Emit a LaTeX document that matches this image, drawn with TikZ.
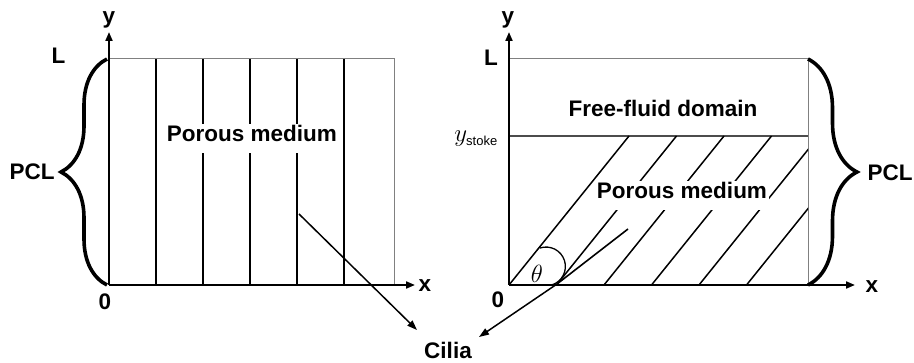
\documentclass[tikz,border=0pt]{standalone}
\usepackage{fontspec}
\setmainfont{Liberation Sans}
\usetikzlibrary{arrows.meta, decorations.pathreplacing}

\begin{document}
\begin{tikzpicture}[x=1pt, y=1pt,
    lbl/.style={font=\fontsize{22.5}{27}\selectfont\bfseries, inner sep=0pt},
    medium/.style={lbl, fill=white, inner xsep=2pt, inner ysep=9.8pt,
                   text height=0.75em, text depth=0.2em},
    axis/.style={line width=2pt, -{Triangle[length=9pt, width=7pt]}},
    pointer/.style={line width=1.5pt, -{Triangle[length=10pt, width=7pt]}},
    cilium/.style={line width=1.6pt},
    hatch/.style={line width=1.5pt},
    frame/.style={gray, line width=1pt},
    pcl/.style={line width=3.6pt, decorate, decoration={brace, amplitude=#1}}
]
\useasboundingbox (0,0) rectangle (914,362);

% left panel: upright cilia
\coordinate (O1) at (109,77);
\coordinate (Y1) at (109,330);
\coordinate (X1) at (415,77);
\draw[frame] (109,303) -- (394,303) -- (394,77);
\foreach \xc in {156,203,250,297,344}
    \draw[cilium] (\xc,77) -- (\xc,303);
\node[medium] (pm1) at (252,223.5) {Porous medium};
\draw[axis] (O1) -- (Y1);
\draw[axis] (O1) -- (X1);
\draw[pcl=46] (107,77) -- (107,303);

\node[lbl] (ylab1) at (109,342) {y};
\node[lbl] (xlab1) at (425,76) {x};
\node[lbl] (L1) at (58.5,306) {L};
\node[lbl] (zero1) at (105,60) {0};
\node[lbl] (pcl1) at (32,190) {PCL};

% right panel: tilted cilia under a free-fluid layer
\coordinate (O2) at (509,77);
\coordinate (Y2) at (509,330);
\coordinate (X2) at (855,77);
\coordinate (S2) at (808,226);
\draw[frame] (509,303) -- (808,303) -- (808,77);
\draw[line width=1.3pt, gray!60!black] (509,226) -- (S2);
\begin{scope}
    \clip (O2) rectangle (S2);
    \foreach \k in {1,...,5}
        \draw[hatch] (509+47.5*\k,77) -- ++(120,149);
\end{scope}
\node[medium] (pm2) at (682,166.5) {Porous medium};
\draw[hatch] (O2) -- (629,226);
\draw[line width=1.3pt] (540,114) arc[start angle=108, end angle=-72, radius=19.4];
\node[font=\fontsize{24}{28}\selectfont] (theta) at (537,88) {$\theta$};
\draw[axis] (O2) -- (Y2);
\draw[axis] (O2) -- (X2);
\draw[pcl=49] (808,303) -- (808,77);

\node[lbl] (free) at (663,254) {Free-fluid domain};
\node[anchor=east, inner sep=0pt, font=\fontsize{28}{32}\selectfont] (ystoke) at (498,223)
    {$y_{\mbox{\fontsize{13}{15}\selectfont stoke}}$};
\node[lbl] (ylab2) at (508,342) {y};
\node[lbl] (xlab2) at (872,75) {x};
\node[lbl] (L2) at (491,304.5) {L};
\node[lbl] (zero2) at (498,62) {0};
\node[lbl] (pcl2) at (890,189.5) {PCL};

% cilia pointers
\node[lbl] (cilia) at (448,11.5) {Cilia};
\coordinate (cL) at (299,148);
\coordinate (tipL) at (417,32);
\coordinate (cR) at (628,133);
\coordinate (cB) at (557,78);
\coordinate (tipR) at (479,25);
\draw[pointer] (cL) -- (tipL);
\draw[cilium] (cR) -- (cB);
\draw[pointer] (cB) -- (tipR);
\end{tikzpicture}
\end{document}
